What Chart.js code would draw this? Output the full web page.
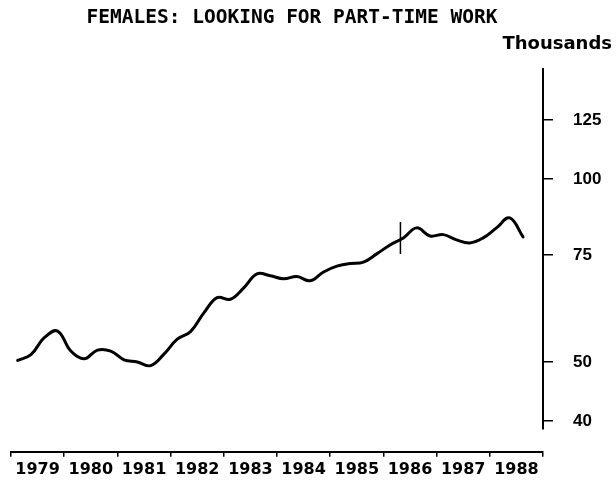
<!DOCTYPE html>
<html>
<head>
<meta charset="utf-8">
<script src="https://cdn.jsdelivr.net/npm/chart.js@4/dist/chart.umd.min.js"></script>
<style>
  html, body { margin: 0; padding: 0; background: #fff; }
  #wrap { width: 616px; height: 482px; }
</style>
</head>
<body>
<div id="wrap"><canvas id="c" width="616" height="482"></canvas></div>
<script>
// ---- data ----
const chartTitle = 'FEMALES: LOOKING FOR PART-TIME WORK';
const unitLabel = 'Thousands';
const startYear = 1979;
const yearTicks = [1979, 1980, 1981, 1982, 1983, 1984, 1985, 1986, 1987, 1988, 1989];
const yTicks = [40, 50, 75, 100, 125];
// quarterly values (thousands), 1979 Q1 .. 1988 Q3
const values = [
  50.3, 51.4, 54.8, 56.2,
  52.1, 50.6, 52.3, 52.1,
  50.4, 50.0, 49.3, 51.5,
  54.5, 56.1, 60.2, 63.8,
  63.4, 66.2, 69.8, 69.3,
  68.5, 69.1, 68.0, 70.3,
  71.9, 72.6, 73.0, 75.3,
  77.9, 80.0, 83.1, 80.6,
  81.0, 79.4, 78.5, 80.0,
  83.1, 86.3, 80.3
];
const breakMarkX = 1986.32;
const breakMarkY = [75.3, 85.0];
const yMin = 35.57;
const yMax = 152.3;
const yAxisLineLow = 38.7;

const seriesPoints = values.map((v, i) => ({ x: startYear + (i + 0.5) / 4, y: v }));
const markPoints = breakMarkY.map(v => ({ x: breakMarkX, y: v }));

const textPlugin = {
  id: 'texts',
  afterDraw(chart) {
    const ctx = chart.ctx;
    const ca = chart.chartArea;
    const ys = chart.scales.y;
    ctx.save();
    // right axis line (stops short of the x axis)
    ctx.strokeStyle = '#000';
    ctx.lineWidth = 2;
    ctx.beginPath();
    ctx.moveTo(ca.right, ca.top);
    ctx.lineTo(ca.right, ys.getPixelForValue(yAxisLineLow));
    ctx.stroke();
    ctx.fillStyle = '#000';
    ctx.textBaseline = 'middle';
    ctx.textAlign = 'center';
    ctx.font = 'bold 19.5px "DejaVu Sans Mono"';
    ctx.fillText(chartTitle, 292, 18);
    ctx.textAlign = 'right';
    ctx.font = 'bold 18px "DejaVu Sans"';
    ctx.fillText(unitLabel, 612, 44);
    ctx.restore();
  }
};

new Chart(document.getElementById('c'), {
  type: 'line',
  data: {
    datasets: [
      {
        data: seriesPoints,
        borderColor: '#000',
        borderWidth: 3,
        pointRadius: 0,
        tension: 0.4,
        borderCapStyle: 'round',
        borderJoinStyle: 'round',
        fill: false
      },
      {
        data: markPoints,
        borderColor: '#000',
        borderWidth: 1.5,
        pointRadius: 0,
        tension: 0,
        fill: false
      }
    ]
  },
  options: {
    responsive: false,
    animation: false,
    devicePixelRatio: 1,
    layout: { padding: { left: 11, top: 68, right: 0, bottom: 0 } },
    plugins: { legend: { display: false }, tooltip: { enabled: false }, title: { display: false } },
    scales: {
      x: {
        type: 'linear',
        position: 'bottom',
        min: yearTicks[0],
        max: yearTicks[yearTicks.length - 1],
        afterBuildTicks(scale) { scale.ticks = yearTicks.map(v => ({ value: v })); },
        afterFit(scale) { scale.height = 30; scale.paddingLeft = 0; scale.paddingRight = 0; },
        ticks: {
          autoSkip: false,
          maxRotation: 0,
          labelOffset: 26.6,
          padding: 3,
          color: '#000',
          font: { family: 'DejaVu Sans', weight: 'bold', size: 16 },
          callback: (v) => (v < yearTicks[yearTicks.length - 1] ? String(v) : '')
        },
        grid: { drawOnChartArea: false, drawTicks: true, tickLength: 5, color: '#000', lineWidth: 1.5 },
        border: { display: true, color: '#000', width: 2 }
      },
      y: {
        type: 'logarithmic',
        position: 'right',
        min: yMin,
        max: yMax,
        afterBuildTicks(scale) { scale.ticks = yTicks.map(v => ({ value: v })); },
        afterFit(scale) { scale.width = 73; },
        ticks: {
          padding: 20,
          color: '#000',
          font: { family: 'Liberation Sans', weight: 'bold', size: 17 },
          callback: (v) => String(v)
        },
        grid: { drawOnChartArea: false, drawTicks: true, tickLength: 10, color: '#000', lineWidth: 1.5 },
        border: { display: false }
      }
    }
  },
  plugins: [textPlugin]
});
</script>
</body>
</html>
